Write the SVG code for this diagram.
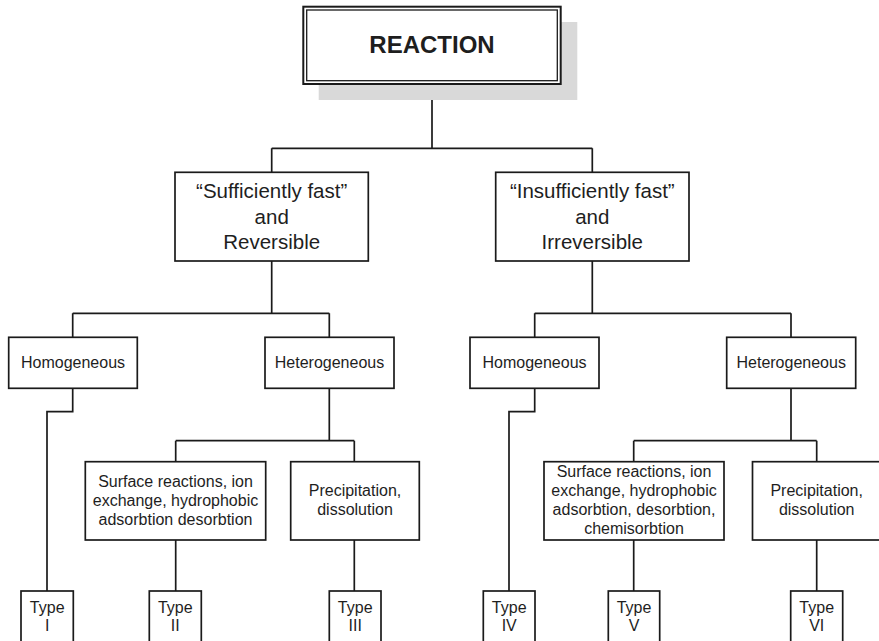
<svg xmlns="http://www.w3.org/2000/svg" width="879" height="641" viewBox="0 0 879 641">
  <style>
    .box { fill: #ffffff; stroke: #1a1a1a; stroke-width: 1.7; }
    .link { fill: none; stroke: #1a1a1a; stroke-width: 1.7; }
    text { font-family: "Liberation Sans", Arial, Helvetica, sans-serif; fill: #1e1e1e; text-anchor: middle; }
    .t16 { font-size: 16px; }
    .t20 { font-size: 20.5px; }
    .title { font-size: 24px; font-weight: bold; }
  </style>
  <rect width="879" height="641" fill="#ffffff"/>

  <!-- connectors -->
  <g id="connectors" class="link">
    <path d="M432 84 V148.3 M271.7 148.3 H592.3 M271.7 148.3 V172.3 M592.3 148.3 V172.3"/>
    <path d="M271.7 261 V313.3 M72.7 313.3 H329.3 M72.7 313.3 V337.3 M329.3 313.3 V337.3"/>
    <path d="M592.3 261 V313.3 M534.7 313.3 H791 M534.7 313.3 V337.3 M791 313.3 V337.3"/>
    <path d="M72.7 388.3 V411.7 H47 V591"/>
    <path d="M534.7 388.3 V411.7 H509 V591"/>
    <path d="M329.3 388.3 V440.7 M175.7 440.7 H354.3 M175.7 440.7 V461.7 M354.3 440.7 V461.7"/>
    <path d="M791 388.3 V440.7 M633.7 440.7 H816.7 M633.7 440.7 V461.7 M816.7 440.7 V461.7"/>
    <path d="M175.7 540 V591 M354.3 540 V591 M633.7 540 V591 M816.7 540 V591"/>
  </g>

  <!-- root -->
  <g id="reaction">
    <rect x="318.7" y="22" width="258.6" height="78" fill="#d9d9d9"/>
    <rect x="303.3" y="6.7" width="257.4" height="77.3" fill="#ffffff" stroke="#1a1a1a" stroke-width="2"/>
    <rect x="306.7" y="10" width="250.6" height="70.7" fill="none" stroke="#1a1a1a" stroke-width="1.3"/>
    <text class="title" x="432" y="53.3">REACTION</text>
  </g>

  <!-- second level -->
  <g id="fast-reversible">
    <rect class="box" x="175" y="172.3" width="193.3" height="88.7"/>
    <text class="t20" x="271.7" y="198.3">“Sufficiently fast”</text>
    <text class="t20" x="271.7" y="223.8">and</text>
    <text class="t20" x="271.7" y="249.3">Reversible</text>
  </g>
  <g id="slow-irreversible">
    <rect class="box" x="495.7" y="172.3" width="193.3" height="88.7"/>
    <text class="t20" x="592.3" y="198.3">“Insufficiently fast”</text>
    <text class="t20" x="592.3" y="223.8">and</text>
    <text class="t20" x="592.3" y="249.3">Irreversible</text>
  </g>

  <!-- third level -->
  <g id="homogeneous-1">
    <rect class="box" x="8.7" y="337.3" width="128.6" height="51"/>
    <text class="t16" x="73" y="368.3">Homogeneous</text>
  </g>
  <g id="heterogeneous-1">
    <rect class="box" x="265" y="337.3" width="129" height="51"/>
    <text class="t16" x="329.5" y="368.3">Heterogeneous</text>
  </g>
  <g id="homogeneous-2">
    <rect class="box" x="470" y="337.3" width="129" height="51"/>
    <text class="t16" x="534.5" y="368.3">Homogeneous</text>
  </g>
  <g id="heterogeneous-2">
    <rect class="box" x="726.7" y="337.3" width="129" height="51"/>
    <text class="t16" x="791.2" y="368.3">Heterogeneous</text>
  </g>

  <!-- fourth level -->
  <g id="surface-1">
    <rect class="box" x="85.3" y="461.7" width="180.4" height="78.3"/>
    <text class="t16" x="175.5" y="487.3">Surface reactions, ion</text>
    <text class="t16" x="175.5" y="506.2">exchange, hydrophobic</text>
    <text class="t16" x="175.5" y="525.1">adsorbtion desorbtion</text>
  </g>
  <g id="precipitation-1">
    <rect class="box" x="290.7" y="461.7" width="128.6" height="78.3"/>
    <text class="t16" x="355" y="496">Precipitation,</text>
    <text class="t16" x="355" y="515">dissolution</text>
  </g>
  <g id="surface-2">
    <rect class="box" x="544" y="461.7" width="180" height="78.3"/>
    <text class="t16" x="634" y="477.3">Surface reactions, ion</text>
    <text class="t16" x="634" y="496.2">exchange, hydrophobic</text>
    <text class="t16" x="634" y="515.1">adsorbtion, desorbtion,</text>
    <text class="t16" x="634" y="534">chemisorbtion</text>
  </g>
  <g id="precipitation-2">
    <rect class="box" x="752.5" y="461.7" width="128.6" height="78.3"/>
    <text class="t16" x="816.7" y="496">Precipitation,</text>
    <text class="t16" x="816.7" y="515">dissolution</text>
  </g>

  <!-- types -->
  <g id="type-1">
    <rect class="box" x="21" y="591" width="52.3" height="60"/>
    <text class="t16" x="47.2" y="612.5">Type</text>
    <text class="t16" x="47.2" y="630.5">I</text>
  </g>
  <g id="type-2">
    <rect class="box" x="149.3" y="591" width="52" height="60"/>
    <text class="t16" x="175.3" y="612.5">Type</text>
    <text class="t16" x="175.3" y="630.5">II</text>
  </g>
  <g id="type-3">
    <rect class="box" x="329.3" y="591" width="51.7" height="60"/>
    <text class="t16" x="355.2" y="612.5">Type</text>
    <text class="t16" x="355.2" y="630.5">III</text>
  </g>
  <g id="type-4">
    <rect class="box" x="483.3" y="591" width="51.7" height="60"/>
    <text class="t16" x="509.2" y="612.5">Type</text>
    <text class="t16" x="509.2" y="630.5">IV</text>
  </g>
  <g id="type-5">
    <rect class="box" x="608.3" y="591" width="51.4" height="60"/>
    <text class="t16" x="634" y="612.5">Type</text>
    <text class="t16" x="634" y="630.5">V</text>
  </g>
  <g id="type-6">
    <rect class="box" x="790.7" y="591" width="52" height="60"/>
    <text class="t16" x="816.7" y="612.5">Type</text>
    <text class="t16" x="816.7" y="630.5">VI</text>
  </g>
</svg>
